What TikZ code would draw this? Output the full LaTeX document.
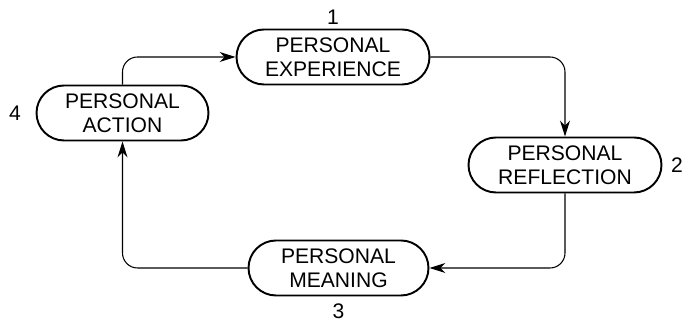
\documentclass[tikz,border=0pt]{standalone}
\usepackage{fontspec}
\setmainfont{Liberation Sans}
\usetikzlibrary{shapes.misc,arrows.meta}

\begin{document}
\begin{tikzpicture}[
    stage/.style={draw, line width=1.1pt, rounded rectangle, minimum height=1.1cm,
        align=center, font=\fontsize{12}{13.5}\selectfont, inner sep=2pt},
    flow/.style={line width=0.6pt, rounded corners=0.3cm, -{Stealth[length=3.2mm,width=2mm]}},
    num/.style={font=\fontsize{12}{13}\selectfont}
]
    \useasboundingbox (0,0) rectangle (13.7,6.48);

    % The four stages of the cycle
    \node[stage, minimum width=4cm] (exp) at (6.66,5.34) {PERSONAL\\EXPERIENCE};
    \node[stage, minimum width=4cm] (refl) at (11.3,3.18) {PERSONAL\\REFLECTION};
    \node[stage, minimum width=3.74cm] (mean) at (6.77,1.12) {PERSONAL\\MEANING};
    \node[stage, minimum width=3.58cm] (act) at (2.45,4.22) {PERSONAL\\ACTION};

    % Numbers
    \node[num] (n1) at (6.66,6.14) {1};
    \node[num] (n2) at (13.54,3.18) {2};
    \node[num] (n3) at (6.77,0.26) {3};
    \node[num] (n4) at (0.3,4.22) {4};

    % Arrows round the cycle
    \draw[flow] (exp.east) -| (refl.north);
    \draw[flow] (refl.south) |- (mean.east);
    \draw[flow] (mean.west) -| (act.south);
    \draw[flow] (act.north) |- (exp.west);
\end{tikzpicture}
\end{document}
